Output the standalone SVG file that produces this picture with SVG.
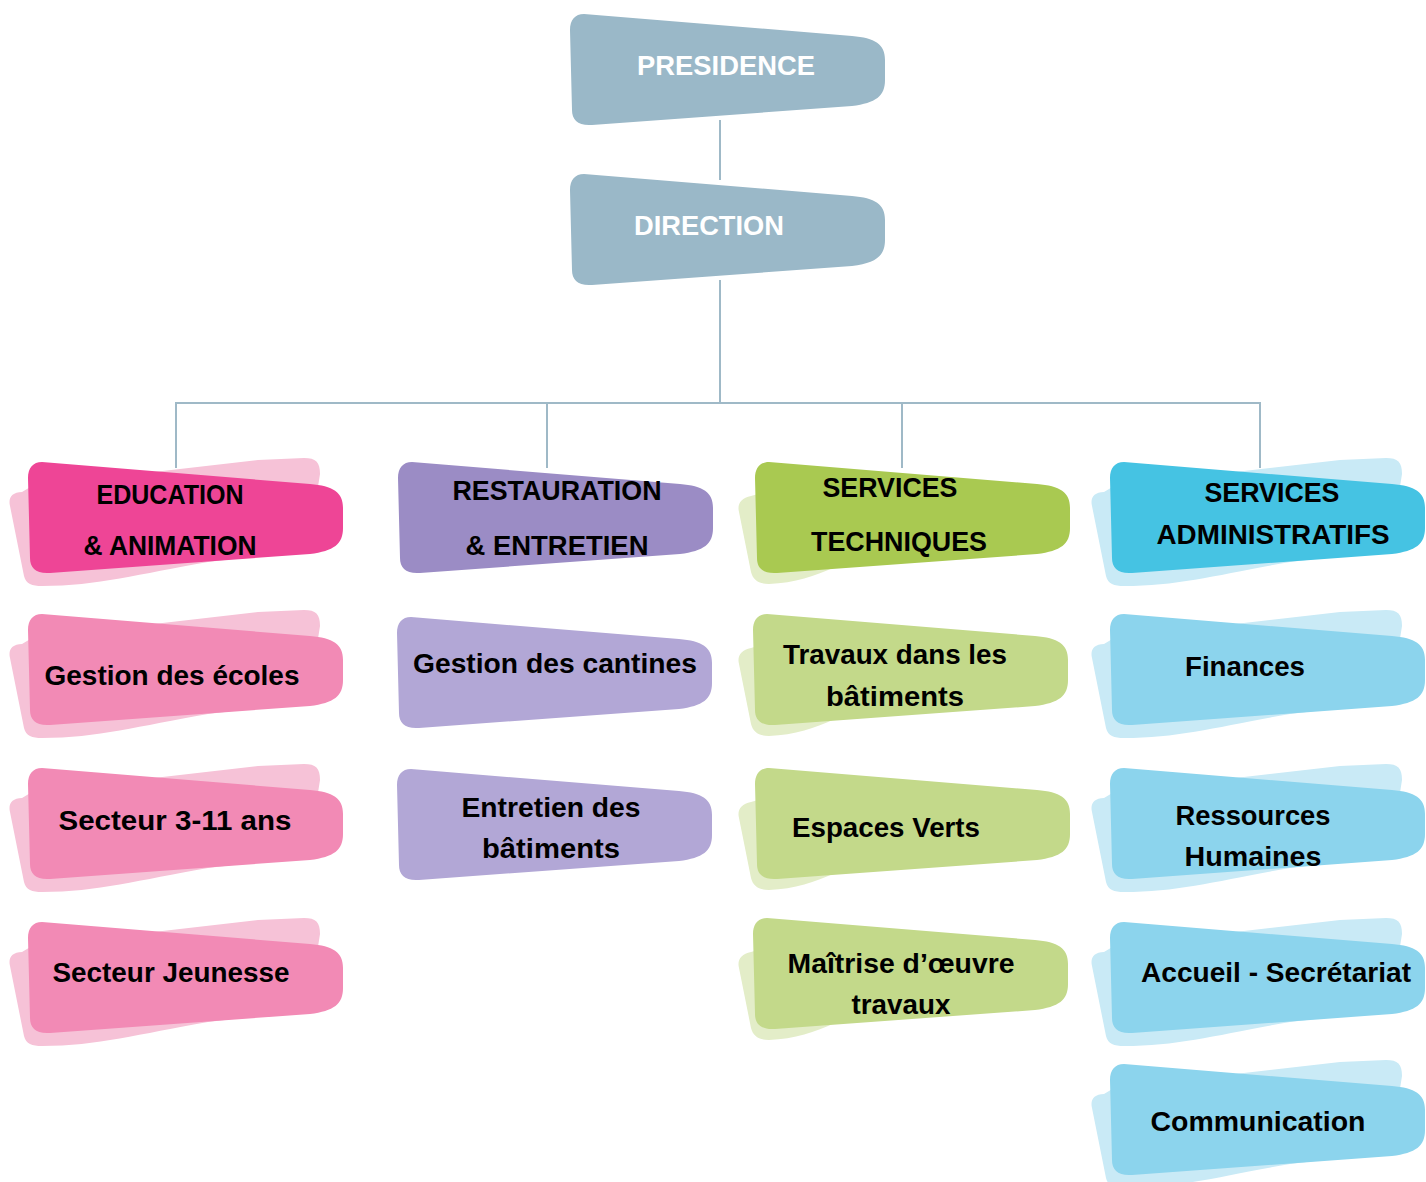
<svg xmlns="http://www.w3.org/2000/svg" xmlns:xlink="http://www.w3.org/1999/xlink" width="1426" height="1182" viewBox="0 0 1426 1182">
<style>
.t{font-family:"Liberation Sans",Arial,sans-serif;font-weight:bold;font-size:27px;fill:#000;text-anchor:middle}
.w{fill:#fff;font-size:28px}
.lines{stroke:#9fb9c7;stroke-width:2;fill:none}
.top{fill:#9ab8c8}
.pk1{fill:#ee4596}.pk2{fill:#f28ab5}.pks{fill:#f6c2d7}
.pu1{fill:#9b8cc5}.pu2{fill:#b2a7d6}
.gr1{fill:#a9c951}.gr2{fill:#c3d98a}.grs{fill:#e3edc8}
.bl1{fill:#45c3e3}.bl2{fill:#8cd4ed}.bls{fill:#c9eaf6}
</style>
<defs>
<path id="blob" d="M14,0 C5,0 0,6 0,16 L2,96 C2,106 8,112 22,111 L282,92 C306,89 315,82 315,66 L315,46 C315,30 305,24 282,22 Z"/>
<path id="shad" d="M-6,30 C-16,30 -20,36 -18,44 L-4,114 C-2,122 4,124 14,124 C70,124 110,112 180,100 L280,88 L292,12 C292,0 288,-4 276,-4 L230,-2 L4,24 Z"/>
<path id="shadg" d="M-4,34 C-14,36 -18,42 -16,50 L-4,110 C-2,118 4,122 14,122 C40,121 60,114 80,105 L10,30 Z"/>
</defs>
<rect width="1426" height="1182" fill="#fff"/>
<g id="connectors" class="lines">
<line x1="720" y1="120" x2="720" y2="180"/>
<line x1="720" y1="280" x2="720" y2="403"/>
<line x1="175" y1="403" x2="1261" y2="403"/>
<line x1="176" y1="403" x2="176" y2="468"/>
<line x1="547" y1="403" x2="547" y2="468"/>
<line x1="902" y1="403" x2="902" y2="468"/>
<line x1="1260" y1="403" x2="1260" y2="468"/>
</g>
<g id="presidence"><use href="#blob" x="570" y="14" class="top"/><text class="t w" x="726" y="75" textLength="178" lengthAdjust="spacingAndGlyphs">PRESIDENCE</text></g>
<g id="direction"><use href="#blob" x="570" y="174" class="top"/><text class="t w" x="709" y="235" textLength="150" lengthAdjust="spacingAndGlyphs">DIRECTION</text></g>

<g id="education"><use href="#shad" x="28" y="462" class="pks"/><use href="#blob" x="28" y="462" class="pk1"/>
<text class="t" x="170" y="504" textLength="147" lengthAdjust="spacingAndGlyphs">EDUCATION</text>
<text class="t" x="170" y="555" textLength="173" lengthAdjust="spacingAndGlyphs">&amp; ANIMATION</text></g>
<g id="ecoles"><use href="#shad" x="28" y="614" class="pks"/><use href="#blob" x="28" y="614" class="pk2"/>
<text class="t" x="172" y="685" textLength="255" lengthAdjust="spacingAndGlyphs">Gestion des écoles</text></g>
<g id="secteur311"><use href="#shad" x="28" y="768" class="pks"/><use href="#blob" x="28" y="768" class="pk2"/>
<text class="t" x="175" y="830" textLength="233" lengthAdjust="spacingAndGlyphs">Secteur 3-11 ans</text></g>
<g id="jeunesse"><use href="#shad" x="28" y="922" class="pks"/><use href="#blob" x="28" y="922" class="pk2"/>
<text class="t" x="171" y="982" textLength="237" lengthAdjust="spacingAndGlyphs">Secteur Jeunesse</text></g>

<g id="restauration"><use href="#blob" x="398" y="462" class="pu1"/>
<text class="t" x="557" y="500" textLength="209" lengthAdjust="spacingAndGlyphs">RESTAURATION</text>
<text class="t" x="557" y="555" textLength="183" lengthAdjust="spacingAndGlyphs">&amp; ENTRETIEN</text></g>
<g id="cantines"><use href="#blob" x="397" y="617" class="pu2"/>
<text class="t" x="555" y="673" textLength="284" lengthAdjust="spacingAndGlyphs">Gestion des cantines</text></g>
<g id="entretien"><use href="#blob" x="397" y="769" class="pu2"/>
<text class="t" x="551" y="817" textLength="179" lengthAdjust="spacingAndGlyphs">Entretien des</text>
<text class="t" x="551" y="858" textLength="138" lengthAdjust="spacingAndGlyphs">bâtiments</text></g>

<g id="techniques"><use href="#shadg" x="755" y="462" class="grs"/><use href="#blob" x="755" y="462" class="gr1"/>
<text class="t" x="890" y="497" textLength="135" lengthAdjust="spacingAndGlyphs">SERVICES</text>
<text class="t" x="899" y="551" textLength="176" lengthAdjust="spacingAndGlyphs">TECHNIQUES</text></g>
<g id="travaux"><use href="#shadg" x="755" y="614" class="grs"/><use href="#blob" x="753" y="614" class="gr2"/>
<text class="t" x="895" y="664" textLength="224" lengthAdjust="spacingAndGlyphs">Travaux dans les</text>
<text class="t" x="895" y="706" textLength="138" lengthAdjust="spacingAndGlyphs">bâtiments</text></g>
<g id="espaces"><use href="#shadg" x="755" y="768" class="grs"/><use href="#blob" x="755" y="768" class="gr2"/>
<text class="t" x="886" y="837" textLength="188" lengthAdjust="spacingAndGlyphs">Espaces Verts</text></g>
<g id="maitrise"><use href="#shadg" x="755" y="918" class="grs"/><use href="#blob" x="753" y="918" class="gr2"/>
<text class="t" x="901" y="973" textLength="227" lengthAdjust="spacingAndGlyphs">Maîtrise d’œuvre</text>
<text class="t" x="901" y="1014" textLength="99" lengthAdjust="spacingAndGlyphs">travaux</text></g>

<g id="administratifs"><use href="#shad" x="1110" y="462" class="bls"/><use href="#blob" x="1110" y="462" class="bl1"/>
<text class="t" x="1272" y="502" textLength="135" lengthAdjust="spacingAndGlyphs">SERVICES</text>
<text class="t" x="1273" y="544" textLength="233" lengthAdjust="spacingAndGlyphs">ADMINISTRATIFS</text></g>
<g id="finances"><use href="#shad" x="1110" y="614" class="bls"/><use href="#blob" x="1110" y="614" class="bl2"/>
<text class="t" x="1245" y="676" textLength="120" lengthAdjust="spacingAndGlyphs">Finances</text></g>
<g id="rh"><use href="#shad" x="1110" y="768" class="bls"/><use href="#blob" x="1110" y="768" class="bl2"/>
<text class="t" x="1253" y="825" textLength="155" lengthAdjust="spacingAndGlyphs">Ressources</text>
<text class="t" x="1253" y="866" textLength="137" lengthAdjust="spacingAndGlyphs">Humaines</text></g>
<g id="accueil"><use href="#shad" x="1110" y="922" class="bls"/><use href="#blob" x="1110" y="922" class="bl2"/>
<text class="t" x="1276" y="982" textLength="270" lengthAdjust="spacingAndGlyphs">Accueil - Secrétariat</text></g>
<g id="communication"><use href="#shad" x="1110" y="1064" class="bls"/><use href="#blob" x="1110" y="1064" class="bl2"/>
<text class="t" x="1258" y="1131" textLength="215" lengthAdjust="spacingAndGlyphs">Communication</text></g>
</svg>
